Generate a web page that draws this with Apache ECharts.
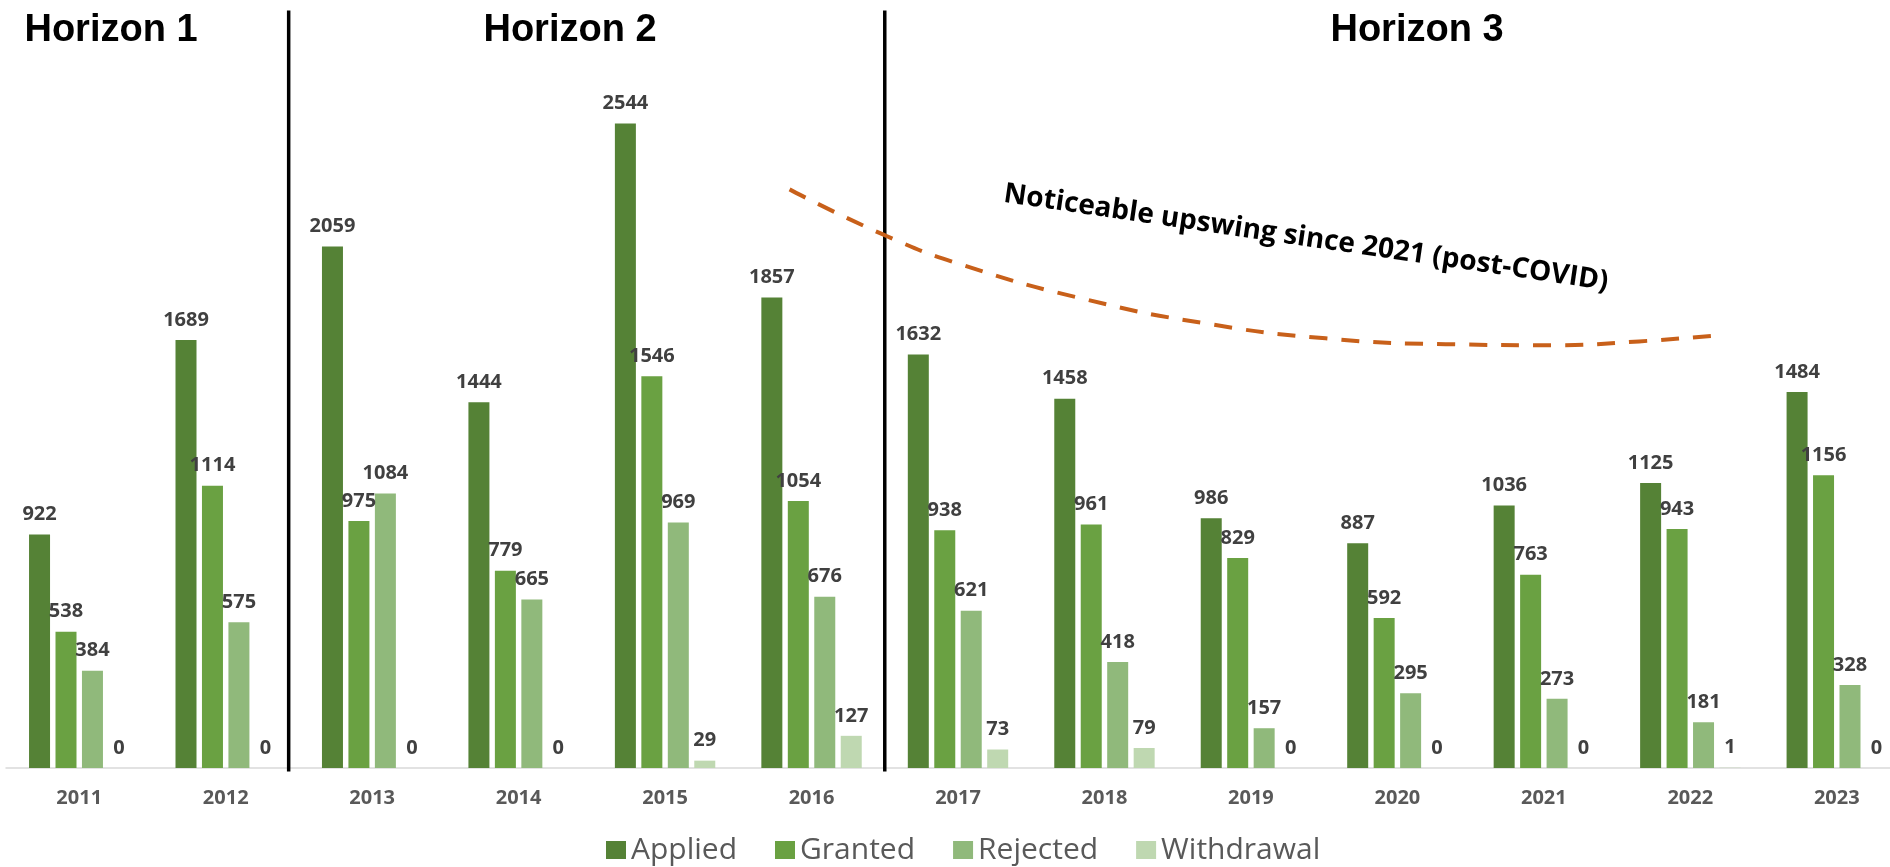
<!DOCTYPE html>
<html>
<head>
<meta charset="utf-8">
<title>Horizons</title>
<script src="https://cdn.jsdelivr.net/npm/echarts@6/dist/echarts.min.js"></script>
<style>
  html, body { margin: 0; padding: 0; background: #fff; overflow: hidden; }
  /* a little wider than the window: the original is cropped on the right */
  #chart { width: 1910px; height: 867px; }
</style>
</head>
<body>
<div id="chart"></div>
<script>
const years = ['2011', '2012', '2013', '2014', '2015', '2016', '2017', '2018', '2019', '2020', '2021', '2022', '2023']
const applied = [922, 1689, 2059, 1444, 2544, 1857, 1632, 1458, 986, 887, 1036, 1125, 1484]
const granted = [538, 1114, 975, 779, 1546, 1054, 938, 961, 829, 592, 763, 943, 1156]
const rejected = [384, 575, 1084, 665, 969, 676, 621, 418, 157, 295, 273, 181, 328]
const withdrawal = [0, 0, 0, 0, 29, 127, 73, 79, 0, 0, 0, 1, 0]

// horizon breaks, in category units (category i sits at i)
const horizonBreaks = [1.43, 5.5]
const horizonTitles = ['Horizon 1', 'Horizon 2', 'Horizon 3']

// hand-drawn trend curve (category units, counts)
const curveX = [4.85, 5.5, 6.04, 6.87, 7.69, 8.51, 9.33, 10.08, 10.65, 11.19]
const curveY = [2284, 2103, 1984, 1850, 1755, 1696, 1673, 1669, 1684, 1708]
const note = 'Noticeable upswing since 2021 (post-COVID)'

const colors = ['#558236', '#6aa142', '#90b97b', '#bfd8b1']

const chart = echarts.init(document.getElementById('chart'))

const labelStyle = {
  show: true,
  position: 'top',
  distance: 10,
  color: '#404040',
  fontFamily: 'Open Sans',
  fontWeight: 'bold',
  fontSize: 20
}

function barSeries(name, data, color) {
  return {
    name,
    type: 'bar',
    barWidth: 21,
    barGap: '26%',
    itemStyle: { color },
    label: labelStyle,
    data
  }
}

function breakSeries(x) {
  return {
    type: 'line',
    xAxisIndex: 1,
    yAxisIndex: 0,
    clip: false,
    symbol: 'none',
    silent: true,
    lineStyle: { color: '#000', width: 3.5 },
    data: [[x, -14], [x, 2990]]
  }
}

chart.setOption({
  animation: false,
  grid: { left: 6, right: 0, top: 8, bottom: 99 },
  legend: {
    data: ['Applied', 'Granted', 'Rejected', 'Withdrawal'],
    left: 601,
    top: 830,
    icon: 'rect',
    itemWidth: 20,
    itemHeight: 18,
    itemGap: 38,
    textStyle: { color: '#595959', fontFamily: 'Open Sans', fontSize: 30 }
  },
  xAxis: [
    {
      type: 'category',
      data: years,
      axisLine: { lineStyle: { color: '#d9d9d9', width: 1.5 } },
      axisTick: { show: false },
      axisLabel: {
        color: '#595959',
        fontFamily: 'Open Sans',
        fontWeight: 'bold',
        fontSize: 20,
        margin: 20
      }
    },
    { type: 'value', min: -0.5, max: 12.5, show: false }
  ],
  yAxis: {
    type: 'value',
    min: 0,
    max: 3000,
    show: false,
    splitLine: { show: false }
  },
  graphic: [
    ...horizonTitles.map((t, i) => ({
      type: 'text',
      x: [111, 570, 1417][i],
      y: 31,
      style: {
        text: t,
        fill: '#000',
        font: 'bold 38px "Liberation Sans", Arial, sans-serif',
        textAlign: 'center',
        textVerticalAlign: 'middle'
      }
    })),
    {
      type: 'text',
      x: 1306,
      y: 238,
      rotation: -0.145,
      style: {
        text: note,
        fill: '#000',
        font: 'bold 28px "Open Sans", sans-serif',
        textAlign: 'center',
        textVerticalAlign: 'middle'
      }
    }
  ],
  series: [
    barSeries('Applied', applied, colors[0]),
    barSeries('Granted', granted, colors[1]),
    barSeries('Rejected', rejected, colors[2]),
    barSeries('Withdrawal', withdrawal, colors[3]),
    ...horizonBreaks.map(breakSeries),
    {
      type: 'line',
      xAxisIndex: 1,
      yAxisIndex: 0,
      smooth: true,
      symbol: 'none',
      silent: true,
      lineStyle: { color: '#c8601a', width: 4, type: [18, 14] },
      data: curveX.map((x, i) => [x, curveY[i]])
    }
  ]
})
</script>
</body>
</html>
